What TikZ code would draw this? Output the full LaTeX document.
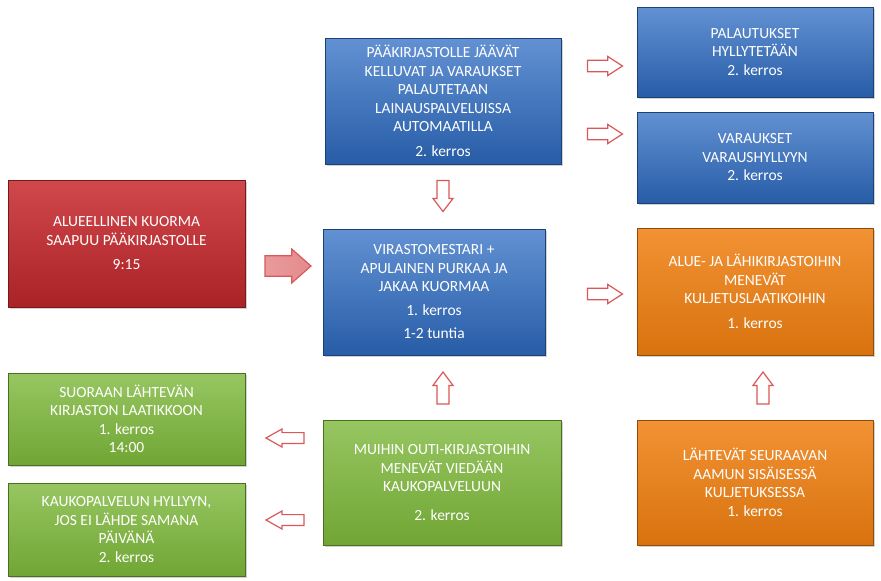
\documentclass[tikz,border=0pt]{standalone}
\usepackage{fontspec}
\setmainfont{Carlito}
\usetikzlibrary{shadows}
\begin{document}
\begin{tikzpicture}[x=1pt,y=-1pt,
 box/.style={rectangle,draw=#1!60!black,line width=0.8pt,align=center,text=white,font=\fontsize{15.5}{18.5}\selectfont,inner sep=2pt,drop shadow={opacity=0.35,shadow xshift=2pt,shadow yshift=-2pt}},
 bluebox/.style={box=bl,top color=bl!75!white,bottom color=bl!85!black},
 redbox/.style={box=rd,top color=rd!85!white,bottom color=rd!85!black},
 orbox/.style={box=orr,top color=orr!85!white,bottom color=orr!90!black},
 grbox/.style={box=gr,top color=gr!80!white,bottom color=gr!90!black},
 arr/.style={draw=arrred,line width=1.2pt,fill=white,line join=miter},
]
\definecolor{bl}{HTML}{2E6DC4}
\definecolor{rd}{HTML}{C8282C}
\definecolor{orr}{HTML}{F07F10}
\definecolor{gr}{HTML}{7DB83A}
\definecolor{arrred}{HTML}{D9585A}
\newcommand{\barrow}[6][arr]{% style, x, y, angle, length, width
 \begin{scope}[shift={(#2,#3)},rotate=-#4]
 \path[#1] (-#5/2,-0.3*#6) -- (#5/2-0.42*#5,-0.3*#6) -- (#5/2-0.42*#5,-#6/2) -- (#5/2,0) -- (#5/2-0.42*#5,#6/2) -- (#5/2-0.42*#5,0.3*#6) -- (-#5/2,0.3*#6) -- cycle;
 \end{scope}}
\useasboundingbox (0,0) rectangle (881,581);
\fill[white] (0,0) rectangle (881,581);
\node[redbox,minimum width=237pt,minimum height=127pt] (red) at (126.5,243.5) {ALUEELLINEN KUORMA\\SAAPUU PÄÄKIRJASTOLLE\\[6pt]9:15};
\node[bluebox,minimum width=222pt,minimum height=126pt] (ctr) at (434,292) {VIRASTOMESTARI +\\APULAINEN PURKAA JA\\JAKAA KUORMAA\\[5pt]1. kerros\\[5pt]1-2 tuntia};
\node[bluebox,minimum width=236pt,minimum height=126pt] (top) at (443,101) {PÄÄKIRJASTOLLE JÄÄVÄT\\KELLUVAT JA VARAUKSET\\PALAUTETAAN\\LAINAUSPALVELUISSA\\AUTOMAATILLA\\[6pt]2. kerros};
\node[bluebox,minimum width=236pt,minimum height=90pt] (pal) at (755,52) {PALAUTUKSET\\HYLLYTETÄÄN\\2. kerros};
\node[bluebox,minimum width=236pt,minimum height=91pt] (var) at (755,157.5) {VARAUKSET\\VARAUSHYLLYYN\\2. kerros};
\node[orbox,minimum width=236pt,minimum height=127pt] (or1) at (755,291.5) {ALUE- JA LÄHIKIRJASTOIHIN\\MENEVÄT\\KULJETUSLAATIKOIHIN\\[6pt]1. kerros};
\node[orbox,minimum width=236pt,minimum height=125pt] (or2) at (755,482.5) {LÄHTEVÄT SEURAAVAN\\AAMUN SISÄISESSÄ\\KULJETUKSESSA\\1. kerros};
\node[grbox,minimum width=238pt,minimum height=125pt] (gc) at (442,482.5) {MUIHIN OUTI-KIRJASTOIHIN\\MENEVÄT VIEDÄÄN\\KAUKOPALVELUUN\\[10pt]2. kerros};
\node[grbox,minimum width=237pt,minimum height=92pt] (g1) at (126.5,419) {SUORAAN LÄHTEVÄN\\KIRJASTON LAATIKKOON\\1. kerros\\14:00};
\node[grbox,minimum width=237pt,minimum height=93pt] (g2) at (126.5,529.5) {KAUKOPALVELUN HYLLYYN,\\JOS EI LÄHDE SAMANA\\PÄIVÄNÄ\\2. kerros};
\barrow[arr,fill=none,left color=white!40!arrred,right color=arrred!70]{288}{266}{0}{46}{34}
\barrow{443}{196}{90}{31}{20}
\barrow{605}{66}{0}{35}{19}
\barrow{605}{134}{0}{35}{19}
\barrow{605}{294}{0}{35}{19}
\barrow{443}{388}{-90}{32}{20}
\barrow{763}{388}{-90}{32}{20}
\barrow{285}{438}{180}{38}{18}
\barrow{285}{520}{180}{38}{18}
\end{tikzpicture}
\end{document}
